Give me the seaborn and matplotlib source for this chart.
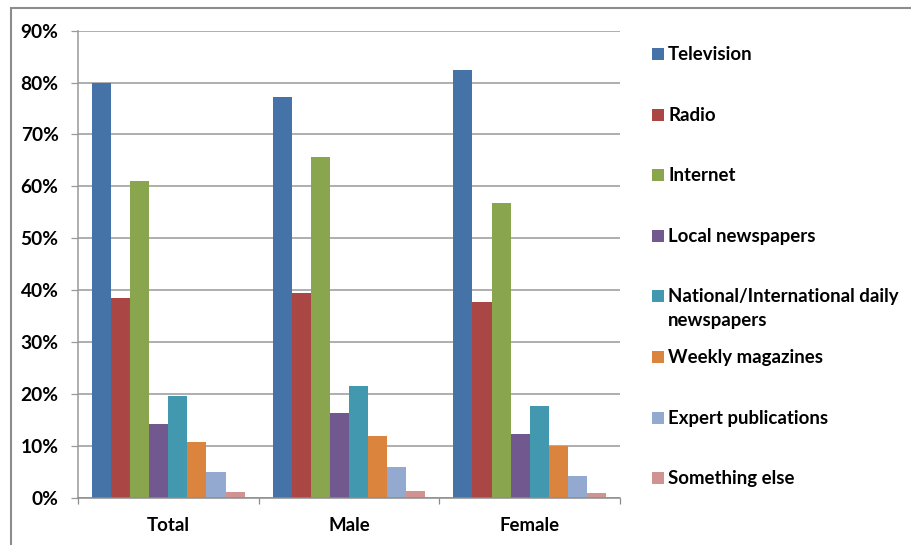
import matplotlib
matplotlib.use("Agg")
import matplotlib.pyplot as plt
from matplotlib.patches import Rectangle
from matplotlib.ticker import FixedLocator, FuncFormatter
import pandas as pd
import seaborn as sns

# Survey: main sources of information, by respondent group (% of respondents)
groups = ["Total", "Male", "Female"]
sources = [
    "Television",
    "Radio",
    "Internet",
    "Local newspapers",
    "National/International daily\nnewspapers",
    "Weekly magazines",
    "Expert publications",
    "Something else",
]
television = [80.0, 77.2, 82.5]
radio = [38.5, 39.5, 37.7]
internet = [61.0, 65.7, 56.8]
local_newspapers = [14.2, 16.3, 12.3]
national_newspapers = [19.6, 21.5, 17.7]
weekly_magazines = [10.8, 12.0, 10.0]
expert_publications = [5.1, 6.0, 4.2]
something_else = [1.1, 1.3, 1.0]

series_values = [television, radio, internet, local_newspapers,
                 national_newspapers, weekly_magazines,
                 expert_publications, something_else]
colors = ["#4572A7", "#AA4643", "#89A54E", "#71588F",
          "#4198AF", "#DB843D", "#93A9CF", "#D19392"]
y_ticks = [0, 10, 20, 30, 40, 50, 60, 70, 80, 90]

rows = []
for src, vals in zip(sources, series_values):
    for g, v in zip(groups, vals):
        rows.append({"group": g, "source": src, "share": v})
df = pd.DataFrame(rows)

sns.set_theme(style="white")
plt.rcParams["font.family"] = ["Lato", "DejaVu Sans"]
plt.rcParams["font.weight"] = "bold"

W, H = 911, 545
fig = plt.figure(figsize=(W / 100, H / 100), dpi=100)
fig.patch.set_facecolor("white")

ax_left, ax_right, ax_top, ax_bottom = 78, 620, 30.6, 498
ax = fig.add_axes([ax_left / W, 1 - ax_bottom / H,
                   (ax_right - ax_left) / W, (ax_bottom - ax_top) / H])

sns.barplot(data=df, x="group", y="share", hue="source", order=groups,
            hue_order=sources, palette=colors, saturation=1, width=0.844,
            gap=0, linewidth=0, ax=ax, legend=False)

ax.set_xlim(-0.5, 2.5)
ax.set_ylim(0, 90)
ax.set_xlabel("")
ax.set_ylabel("")

grid_color = "#999999"
axis_color = "#8c8c8c"
ax.yaxis.set_major_locator(FixedLocator(y_ticks))
ax.yaxis.set_major_formatter(FuncFormatter(lambda v, _: f"{v:.0f}%"))
ax.grid(axis="y", color=grid_color, linewidth=1.1)
ax.set_axisbelow(True)
ax.tick_params(axis="y", length=5, width=0.9, color=grid_color, pad=9,
               labelsize=13.8, labelcolor="black", left=True)

ax.set_xticks(range(len(groups)))
ax.set_xticklabels(groups, fontsize=13.4, fontweight="bold")
ax.tick_params(axis="x", length=0, pad=13.5, labelcolor="black")
ax.set_xticks([-0.5, 0.5, 1.5, 2.5], minor=True)
ax.tick_params(axis="x", which="minor", length=4, width=0.9,
               color=axis_color, bottom=True)

for side in ["top", "right"]:
    ax.spines[side].set_visible(False)
ax.spines["left"].set_color(grid_color)
ax.spines["left"].set_linewidth(1.1)
ax.spines["bottom"].set_color(axis_color)
ax.spines["bottom"].set_linewidth(1.1)

for lbl in ax.get_yticklabels():
    lbl.set_fontweight("bold")

# Legend column on the right: one entry every ~61 px, wrapped lines hang below
line_gap = 23.7
for i, (label, col) in enumerate(zip(sources, colors)):
    base = 60 + 60.6 * i
    fig.add_artist(Rectangle((652 / W, 1 - base / H), 11.5 / W, 12 / H,
                             transform=fig.transFigure,
                             facecolor=col, edgecolor="none"))
    for k, line in enumerate(label.split("\n")):
        fig.text(668 / W, 1 - (base + k * line_gap) / H, line, fontsize=13.4,
                 fontweight="bold", va="baseline", ha="left", color="black")

# Chart frame
fig.add_artist(Rectangle((11 / W, -0.05), (W + 20 - 11) / W, 1.05 - 7.5 / H,
                         transform=fig.transFigure, facecolor="none",
                         edgecolor=axis_color, linewidth=1.5))

fig.savefig("out.png", dpi=100, facecolor="white")
